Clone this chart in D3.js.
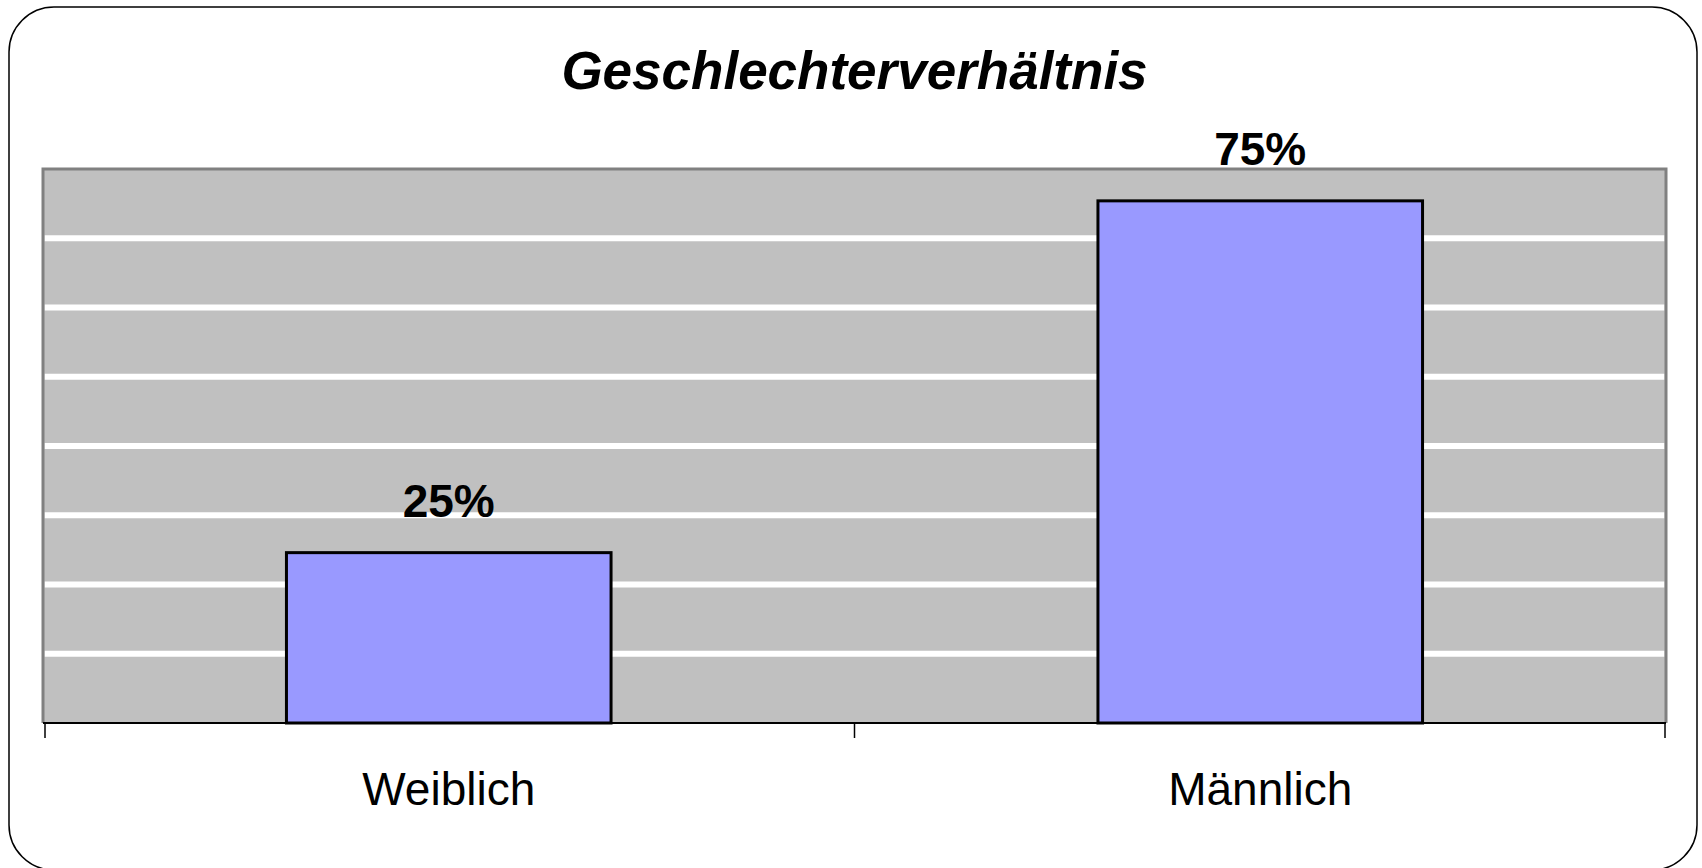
<!DOCTYPE html>
<html>
<head>
<meta charset="utf-8">
<script src="https://cdn.jsdelivr.net/npm/d3@7"></script>
<style>
  html, body { margin: 0; padding: 0; background: #ffffff; }
  svg { display: block; }
</style>
</head>
<body>
<svg id="chart" width="1702" height="868"></svg>
<script>
const title = "Geschlechterverhältnis";
const categories = ["Weiblich", "Männlich"];
const values = [0.246, 0.754];
const yTicks = [0.1, 0.2, 0.3, 0.4, 0.5, 0.6, 0.7];
const yMax = 0.8;

const W = 1702, H = 868;
const plot = { left: 43, right: 1666, top: 169, bottom: 723 };
const font = "'Liberation Sans', Arial, Helvetica, sans-serif";
const pct = d3.format(".0%");

const svg = d3.select("#chart");

// outer rounded frame
svg.append("rect")
  .attr("x", 9).attr("y", 7)
  .attr("width", 1697 - 9).attr("height", 870 - 7)
  .attr("rx", 45).attr("ry", 45)
  .attr("fill", "#ffffff")
  .attr("stroke", "#000000")
  .attr("stroke-width", 1.5);

const x = d3.scaleBand()
  .domain(categories)
  .range([plot.left, plot.right])
  .paddingInner(0.6)
  .paddingOuter(0.3);

const y = d3.scaleLinear()
  .domain([0, yMax])
  .range([plot.bottom, plot.top]);

// plot area background
svg.append("rect")
  .attr("x", plot.left).attr("y", plot.top)
  .attr("width", plot.right - plot.left)
  .attr("height", plot.bottom - plot.top)
  .attr("fill", "#c0c0c0");

// gridlines
svg.append("g")
  .selectAll("line")
  .data(yTicks)
  .join("line")
  .attr("x1", plot.left + 1.5).attr("x2", plot.right - 1.5)
  .attr("y1", d => y(d)).attr("y2", d => y(d))
  .attr("stroke", "#ffffff")
  .attr("stroke-width", 6);

// plot frame (top, left, right) gray
svg.append("path")
  .attr("d", `M${plot.left},${plot.bottom} V${plot.top} H${plot.right} V${plot.bottom}`)
  .attr("fill", "none")
  .attr("stroke", "#808080")
  .attr("stroke-width", 3);

// bars
svg.append("g")
  .selectAll("rect")
  .data(categories)
  .join("rect")
  .attr("x", d => x(d))
  .attr("width", x.bandwidth())
  .attr("y", (d, i) => y(values[i]))
  .attr("height", (d, i) => y(0) - y(values[i]))
  .attr("fill", "#9999ff")
  .attr("stroke", "#000000")
  .attr("stroke-width", 3);

// x axis line and ticks
const bounds = d3.range(categories.length + 1).map(i => x.range()[0] + i * x.step());
svg.append("line")
  .attr("x1", plot.left).attr("x2", plot.right)
  .attr("y1", plot.bottom).attr("y2", plot.bottom)
  .attr("stroke", "#000000")
  .attr("stroke-width", 2);
svg.append("g")
  .selectAll("line")
  .data(bounds)
  .join("line")
  .attr("x1", d => Math.min(Math.max(d, plot.left + 2), plot.right - 1))
  .attr("x2", d => Math.min(Math.max(d, plot.left + 2), plot.right - 1))
  .attr("y1", plot.bottom).attr("y2", plot.bottom + 15)
  .attr("stroke", "#000000")
  .attr("stroke-width", 1.5);

// category labels
svg.append("g")
  .selectAll("text")
  .data(categories)
  .join("text")
  .attr("x", d => x(d) + x.bandwidth() / 2)
  .attr("y", 805)
  .attr("text-anchor", "middle")
  .attr("font-family", font)
  .attr("font-size", 46)
  .attr("fill", "#000000")
  .text(d => d);

// value labels
svg.append("g")
  .selectAll("text")
  .data(categories)
  .join("text")
  .attr("x", d => x(d) + x.bandwidth() / 2)
  .attr("y", (d, i) => y(values[i]) - 36)
  .attr("text-anchor", "middle")
  .attr("font-family", font)
  .attr("font-size", 46)
  .attr("font-weight", "bold")
  .attr("fill", "#000000")
  .text((d, i) => pct(values[i]));

// title
svg.append("text")
  .attr("x", (plot.left + plot.right) / 2)
  .attr("y", 89)
  .attr("text-anchor", "middle")
  .attr("font-family", font)
  .attr("font-size", 53)
  .attr("font-weight", "bold")
  .attr("font-style", "italic")
  .attr("fill", "#000000")
  .text(title);
</script>
</body>
</html>
